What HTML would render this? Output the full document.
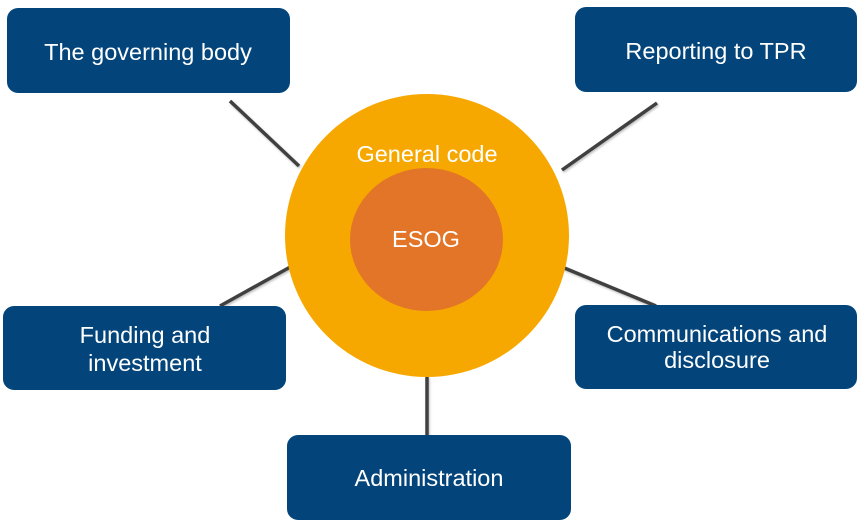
<!DOCTYPE html>
<html><head><meta charset="utf-8"><style>
html,body{margin:0;padding:0;background:#fff;}
svg{display:block;}
text{font-family:"Liberation Sans",Arial,sans-serif;font-size:23.5px;fill:#fff;text-anchor:middle;}
</style></head><body>
<svg width="865" height="523" viewBox="0 0 865 523" xmlns="http://www.w3.org/2000/svg">
<defs>
<filter id="sh" x="-20%" y="-20%" width="140%" height="140%">
<feDropShadow dx="1" dy="1.5" stdDeviation="1" flood-color="#000" flood-opacity="0.25"/>
</filter>
</defs>
<g stroke="#404040" stroke-width="3.5" stroke-linecap="butt" filter="url(#sh)">
<line x1="230" y1="101" x2="299" y2="166"/>
<line x1="657" y1="103" x2="562" y2="170"/>
<line x1="220" y1="306" x2="292" y2="266"/>
<line x1="562" y1="267" x2="656" y2="306"/>
<line x1="427" y1="376" x2="427" y2="436"/>
</g>
<ellipse cx="427" cy="235.5" rx="142" ry="141.5" fill="#F7A800"/>
<ellipse cx="426.5" cy="239.5" rx="76.5" ry="71.5" fill="#E27527"/>
<text x="427" y="162">General code</text>
<text x="426" y="247">ESOG</text>
<g fill="#03457B">
<rect x="7" y="8" width="283" height="85" rx="11"/>
<rect x="575" y="7" width="282" height="85" rx="11"/>
<rect x="3" y="306" width="283" height="84" rx="11"/>
<rect x="575" y="305" width="282" height="84" rx="11"/>
<rect x="287" y="435" width="284" height="85" rx="11"/>
</g>
<text x="148" y="60">The governing body</text>
<text x="716" y="59">Reporting to TPR</text>
<text x="145" y="343">Funding and</text>
<text x="145" y="371">investment</text>
<text x="717" y="342">Communications and</text>
<text x="717" y="368">disclosure</text>
<text x="429" y="486">Administration</text>
</svg>
</body></html>
